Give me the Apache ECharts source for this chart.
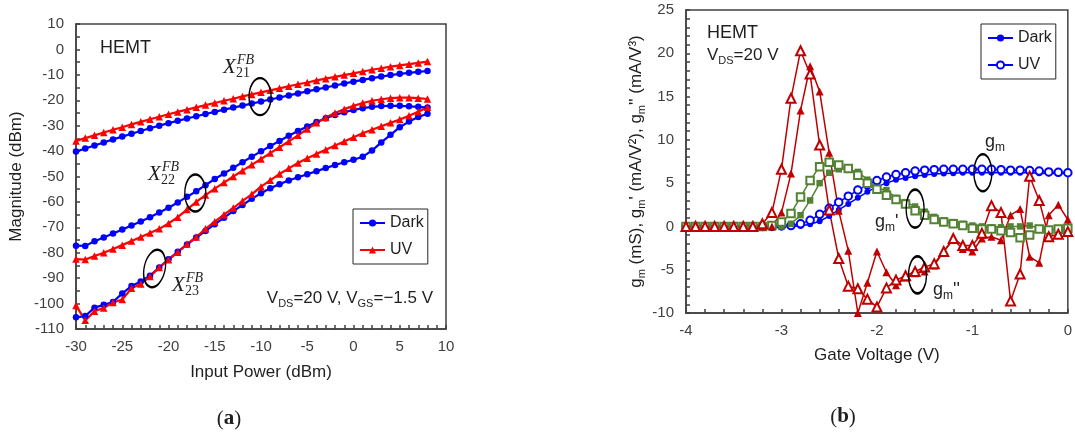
<!DOCTYPE html>
<html>
<head>
<meta charset="utf-8">
<title>HEMT X-parameters and transconductance</title>
<script src="https://cdn.jsdelivr.net/npm/echarts@6.0.0/dist/echarts.min.js"></script>
<style>
  html, body { margin: 0; padding: 0; background: #fff; }
  #chart { width: 1075px; height: 435px; }
</style>
</head>
<body>
<div id="chart"></div>
<script>
// (a) magnitude of the X-parameters vs input power
const inputPower = [-30, -29, -28, -27, -26, -25, -24, -23, -22, -21, -20, -19, -18, -17, -16, -15, -14, -13, -12, -11,
  -10, -9, -8, -7, -6, -5, -4, -3, -2, -1, 0, 1, 2, 3, 4, 5, 6, 7, 8]
const x21Dark = [-40.2, -39.0, -37.8, -36.6, -35.4, -34.3, -33.2, -32.1, -31.0, -30.0,
  -29.0, -28.1, -27.2, -26.3, -25.4, -24.6, -23.7, -22.9, -22.1, -21.3,
  -20.5, -19.7, -18.9, -18.1, -17.3, -16.5, -15.7, -15.0, -14.2, -13.4,
  -12.7, -12.0, -11.3, -10.7, -10.1, -9.6, -9.2, -8.8, -8.5]
const x21UV = [-36.0, -34.9, -33.8, -32.7, -31.6, -30.6, -29.5, -28.5, -27.5, -26.5,
  -25.5, -24.6, -23.7, -22.8, -21.9, -21.1, -20.2, -19.4, -18.5, -17.7,
  -16.9, -16.1, -15.3, -14.5, -13.7, -13.0, -12.2, -11.5, -10.8, -10.1,
  -9.4, -8.7, -8.0, -7.4, -6.8, -6.3, -5.8, -5.3, -4.8]
const x22Dark = [-77.2, -77.3, -75.5, -74.0, -72.4, -70.9, -69.3, -67.7, -66.0, -64.2,
  -62.3, -60.2, -58.0, -55.8, -53.4, -51.0, -48.8, -46.6, -44.4, -42.2,
  -40.1, -38.0, -36.0, -34.0, -32.1, -30.3, -28.6, -27.1, -25.8, -24.7,
  -23.8, -23.1, -22.6, -22.3, -22.2, -22.2, -22.4, -22.6, -22.9]
const x22UV = [-82.5, -82.7, -81.3, -80.0, -78.5, -77.0, -75.4, -73.8, -72.2, -70.6,
  -68.5, -66.0, -63.0, -60.0, -57.3, -54.8, -52.4, -50.0, -47.7, -45.4,
  -43.1, -40.8, -38.5, -36.2, -33.8, -31.3, -28.9, -26.8, -25.0, -23.5,
  -22.2, -21.1, -20.2, -19.6, -19.2, -19.0, -19.0, -19.2, -19.5]
const x23Dark = [-105.4, -104.9, -101.6, -100.5, -99.4, -96.0, -93.1, -91.3, -89.0, -85.8,
  -82.6, -79.6, -76.8, -74.0, -71.4, -68.8, -66.2, -63.6, -61.2, -58.8,
  -56.6, -54.6, -53.0, -51.6, -50.3, -49.1, -47.9, -46.7, -45.5, -44.4,
  -43.4, -42.2, -39.8, -36.6, -33.6, -30.6, -28.4, -26.6, -25.3]
const x23UV = [-100.8, -106.6, -103.0, -101.7, -99.6, -98.4, -94.0, -92.3, -89.3, -85.8,
  -82.8, -79.8, -76.6, -73.8, -70.6, -67.8, -65.0, -62.4, -59.6, -57.0,
  -54.0, -51.5, -49.0, -46.8, -44.7, -42.8, -41.1, -39.5, -37.8, -36.2,
  -34.6, -33.0, -31.6, -30.2, -28.9, -27.6, -26.1, -24.5, -22.8]

// (b) gm, gm' and gm'' vs gate voltage
const gateVoltage = [-4.0, -3.9, -3.8, -3.7, -3.6, -3.5, -3.4, -3.3, -3.2, -3.1, -3.0, -2.9, -2.8, -2.7,
  -2.6, -2.5, -2.4, -2.3, -2.2, -2.1, -2.0, -1.9, -1.8, -1.7, -1.6, -1.5, -1.4, -1.3, -1.2, -1.1,
  -1.0, -0.9, -0.8, -0.7, -0.6, -0.5, -0.4, -0.3, -0.2, -0.1, 0.0]
const gmDark = [0, 0, 0, 0, 0, 0, 0, 0, 0, 0, 0,
  0.0, 0.05, 0.25, 0.6, 1.2, 1.9, 2.6, 3.3, 4.0, 4.6, 5.0, 5.4, 5.6, 5.8, 5.95, 6.05, 6.1, 6.15, 6.2,
  6.2, 6.2, 6.2, 6.2, 6.2, 6.2, 6.2, 6.15, 6.1, 6.1, 6.1]
const gmUV = [0, 0, 0, 0, 0, 0, 0, 0, 0, 0,
  0.05, 0.1, 0.3, 0.7, 1.4, 2.1, 2.8, 3.5, 4.2, 4.8, 5.3, 5.7, 6.0, 6.2, 6.4, 6.5, 6.55, 6.6, 6.6, 6.6,
  6.6, 6.6, 6.6, 6.55, 6.5, 6.5, 6.45, 6.4, 6.3, 6.25, 6.2]
const gm1Dark = [0, 0, 0, 0, 0, 0, 0, 0, 0, 0,
  0.0, 0.3, 1.3, 3.0, 5.0, 6.2, 6.6, 6.6, 6.3, 5.4, 4.4, 4.2, 3.3, 2.8, 2.3, 1.7, 1.1, 0.7, 0.5, 0.3,
  0.1, 0.0, -0.1, -0.1, 0.0, 0.0, 0.1, -0.2, -0.4, -0.4, -0.4]
const gm1UV = [0, 0, 0, 0, 0, 0, 0, 0,
  0.0, 0.1, 0.5, 1.5, 3.4, 5.3, 6.9, 7.4, 7.1, 6.7, 5.9, 5.0, 4.3, 3.6, 3.1, 2.6, 1.8, 1.3, 0.8, 0.5,
  0.3, 0.1, -0.2, -0.3, -0.3, -0.5, -0.7, -1.3, -1.0, -0.3, -0.4, -0.3, -0.2]
const gm2Dark = [0, 0, 0, 0, 0, 0, 0, 0, 0, 0,
  1.6, 6.1, 13.4, 18.5, 15.6, 8.5, 1.8, -2.8, -10.0, -6.5, -2.9, -5.3, -6.8, -5.9, -5.4, -5.2, -4.5,
  -2.9, -1.5, -2.6, -2.9, -1.4, -1.2, -1.6, 1.3, 2.0, -3.5, -4.2, 1.3, 2.5, 0.8]
const gm2UV = [0, 0, 0, 0, 0, 0, 0, 0,
  0.3, 1.6, 6.6, 14.8, 20.3, 17.6, 9.4, 1.9, -3.7, -6.9, -7.2, -8.4, -9.3, -7.1, -6.2, -5.7, -5.2,
  -4.7, -4.3, -2.9, -1.4, -2.2, -2.2, -0.8, 2.4, 1.6, -8.6, -5.5, 5.8, 3.0, -1.2, -0.9, -0.6]

const font = 'Liberation Sans, Arial, sans-serif'
const serif = 'Liberation Serif, Times New Roman, serif'
const axisColor = '#404040'
const textColor = '#1f1f1f'
// stretched unit circle, used for the annotation ellipses
const ellipsePath = 'path://M0,-1C0.5523,-1 1,-0.5523 1,0C1,0.5523 0.5523,1 0,1C-0.5523,1 -1,0.5523 -1,0C-1,-0.5523 -0.5523,-1 0,-1Z'

function toPairs(xs, ys) {
  return xs.map((x, i) => [x, ys[i]])
}

function lineSeries(name, grid, xs, ys, color, symbol, size, width) {
  const empty = symbol.indexOf('empty') === 0
  return {
    name: name,
    type: 'line',
    xAxisIndex: grid,
    yAxisIndex: grid,
    data: toPairs(xs, ys),
    symbol: symbol,
    symbolSize: size,
    lineStyle: { color: color, width: width },
    itemStyle: { color: color, borderColor: color, borderWidth: empty ? 1.3 : 0 },
    emphasis: { disabled: true }
  }
}

function ellipses(items) {
  return {
    silent: true,
    symbol: ellipsePath,
    label: { show: false },
    itemStyle: { color: 'rgba(0,0,0,0)', borderColor: '#000', borderWidth: 1.8 },
    data: items.map(e => ({ coord: [e[0], e[1]], symbolSize: [e[2], e[3]], symbolRotate: e[4] || 0 }))
  }
}

function valueAxis(grid, min, max, interval, split, name, nameGap, vertical) {
  const line = { color: axisColor, width: 1.5 }
  return {
    type: 'value',
    gridIndex: grid,
    min: min,
    max: max,
    interval: interval,
    name: name,
    nameLocation: 'middle',
    nameGap: nameGap,
    nameTextStyle: { color: textColor, fontSize: 17, fontFamily: font, lineHeight: 22 },
    axisLine: { onZero: false, lineStyle: line },
    axisTick: { inside: true, length: 4, lineStyle: line },
    minorTick: { show: true, splitNumber: split, length: 4, lineStyle: line },
    splitLine: { show: false },
    axisLabel: { color: axisColor, fontSize: 15, fontFamily: font, margin: vertical ? 12 : 10 }
  }
}

function text(x, y, str, extra) {
  return {
    type: 'text',
    x: x,
    y: y,
    silent: true,
    style: Object.assign({ text: str, fill: textColor, fontFamily: font, fontSize: 17, verticalAlign: 'middle' }, extra)
  }
}

function xParam(x0, cy, sub) {
  return {
    type: 'group',
    children: [
      text(x0, cy, 'X', { fontFamily: serif, fontStyle: 'italic', fontSize: 21 }),
      text(x0 + 14, cy - 7, 'FB', { fontFamily: serif, fontStyle: 'italic', fontSize: 14 }),
      text(x0 + 13, cy + 6, sub, { fontFamily: serif, fontSize: 14 })
    ]
  }
}

const subRich = {
  n: { fontSize: 17, lineHeight: 22, fontFamily: font, color: textColor },
  s: { fontSize: 11, lineHeight: 11, fontFamily: font, color: textColor, verticalAlign: 'bottom' },
  g: { fontSize: 18, lineHeight: 24, fontFamily: font, color: textColor },
  m: { fontSize: 12, lineHeight: 12, fontFamily: font, color: textColor, verticalAlign: 'bottom' }
}

const legendBase = {
  orient: 'vertical',
  itemWidth: 25,
  itemHeight: 9,
  itemGap: 9,
  padding: [5, 4, 5, 6],
  borderColor: '#262626',
  borderWidth: 1,
  selectedMode: false,
  formatter: n => n.split('_')[0],
  textStyle: { fontSize: 16, color: textColor, fontFamily: font, lineHeight: 18 }
}

const yNameB = 'g{s|m} (mS), g{s|m}\' (mA/V²), g{s|m}\'\' (mA/V³)'

const yAxisB = valueAxis(1, -10, 25, 5, 5, yNameB, 39, true)
yAxisB.nameTextStyle.rich = {
  s: { fontSize: 11, lineHeight: 11, fontFamily: font, color: textColor, verticalAlign: 'bottom' }
}

const leftDark = lineSeries('Dark_a', 0, inputPower, x21Dark, '#0000ff', 'circle', 6.5, 2.2)
leftDark.markPoint = ellipses([[-10.1, -18.6, 22, 37], [-17.1, -56.5, 21, 37], [-21.5, -86.2, 21, 38, -12]])

const rightDark = lineSeries('Dark_b', 1, gateVoltage, gmDark, '#0000ff', 'circle', 6, 1.5)
rightDark.markPoint = ellipses([[-0.89, 6.2, 18, 37], [-1.6, 2.05, 18, 38], [-1.575, -5.6, 18, 37]])

const option = {
  animation: false,
  backgroundColor: '#fff',
  grid: [
    { left: 76, top: 24, width: 370, height: 305, show: true, borderColor: axisColor, borderWidth: 1.5 },
    { left: 686, top: 10, width: 386, height: 303, show: true, borderColor: axisColor, borderWidth: 1.5 }
  ],
  xAxis: [
    valueAxis(0, -30, 10, 5, 5, 'Input Power (dBm)', 32, false),
    valueAxis(1, -4, 0, 1, 5, 'Gate Voltage (V)', 31, false)
  ],
  yAxis: [
    valueAxis(0, -110, 10, 10, 2, 'Magnitude (dBm)', 49, true),
    yAxisB
  ],
  legend: [
    Object.assign({ data: ['Dark_a', 'UV_a'], left: 353, top: 209 }, legendBase),
    Object.assign({ data: ['Dark_b', 'UV_b'], left: 981, top: 24 }, legendBase)
  ],
  series: [
    leftDark,
    lineSeries('Dark_a', 0, inputPower, x22Dark, '#0000ff', 'circle', 6.5, 2.2),
    lineSeries('Dark_a', 0, inputPower, x23Dark, '#0000ff', 'circle', 6.5, 2.2),
    lineSeries('UV_a', 0, inputPower, x21UV, '#ff0000', 'triangle', 7.5, 2.2),
    lineSeries('UV_a', 0, inputPower, x22UV, '#ff0000', 'triangle', 7.5, 2.2),
    lineSeries('UV_a', 0, inputPower, x23UV, '#ff0000', 'triangle', 7.5, 2.2),
    rightDark,
    lineSeries('UV_b', 1, gateVoltage, gmUV, '#0000ff', 'emptyCircle', 7.5, 1.5),
    lineSeries('gm1 Dark', 1, gateVoltage, gm1Dark, '#548235', 'rect', 6.5, 1.5),
    lineSeries('gm1 UV', 1, gateVoltage, gm1UV, '#548235', 'emptyRect', 7.5, 1.5),
    lineSeries('gm2 Dark', 1, gateVoltage, gm2Dark, '#c00000', 'triangle', 8, 1.5),
    lineSeries('gm2 UV', 1, gateVoltage, gm2UV, '#c00000', 'emptyTriangle', 9, 1.5)
  ],
  graphic: [
    text(100, 48, 'HEMT', { fontSize: 18 }),
    text(433, 298, '{n|V}{s|DS}{n|=20 V, V}{s|GS}{n|=−1.5 V}', { align: 'right', rich: subRich }),
    xParam(223, 67, '21'),
    xParam(148, 174, '22'),
    xParam(172, 285, '23'),
    text(707, 33, 'HEMT', { fontSize: 18 }),
    text(707, 55, '{n|V}{s|DS}{n|=20 V}', { rich: subRich }),
    text(985, 142, '{g|g}{m|m}', { rich: subRich }),
    text(875, 222, '{g|g}{m|m}{g|\'}', { rich: subRich }),
    text(933, 290, '{g|g}{m|m}{g|\'\'}', { rich: subRich }),
    text(229, 419, '({b|a})', { align: 'center', fontFamily: serif, fontSize: 21, rich: { b: { fontFamily: serif, fontSize: 21, fontWeight: 'bold', color: textColor } } }),
    text(843, 417, '({b|b})', { align: 'center', fontFamily: serif, fontSize: 21, rich: { b: { fontFamily: serif, fontSize: 21, fontWeight: 'bold', color: textColor } } })
  ]
}

const chart = echarts.init(document.getElementById('chart'))
chart.setOption(option)
</script>
</body>
</html>
